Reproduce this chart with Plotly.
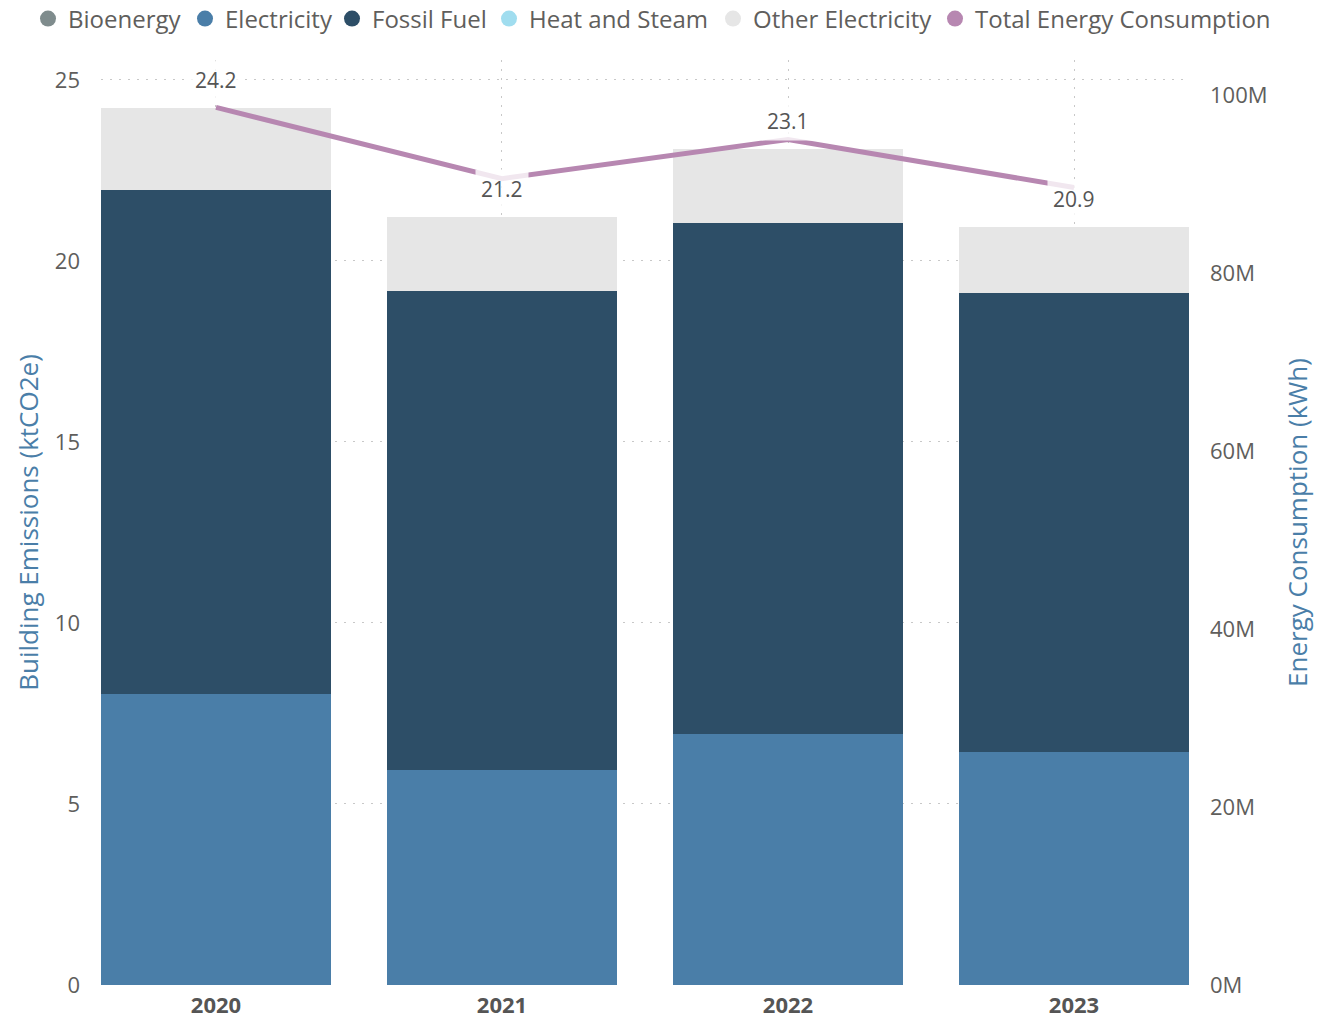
import plotly.graph_objects as go

years = ["2020", "2021", "2022", "2023"]
bioenergy = [0, 0, 0, 0]
electricity = [8.04, 5.94, 6.93, 6.44]
fossil_fuel = [13.92, 13.23, 14.12, 12.68]
heat_steam = [0, 0, 0, 0]
other_electricity = [2.27, 2.05, 2.04, 1.82]
total_energy_m = [98.6, 90.6, 95.0, 89.6]  # millions of kWh
right_ticks = [0, 20, 40, 60, 80, 100]
left_ticks = [0, 5, 10, 15, 20, 25]

series_names = ["Bioenergy", "Electricity", "Fossil Fuel", "Heat and Steam",
                "Other Electricity", "Total Energy Consumption"]
colors = ["#7F8C8D", "#4A7EA8", "#2D4E67", "#A0DDEF", "#E6E6E6", "#B787B1"]

# layout styling
FONT = "Open Sans, sans-serif"
TXT = "#605E5C"
TITLE_C = "#4A7EA8"
GRID = "#C8C8C8"
W, H = 1337, 1020
legend_left_px = [28, 185, 332, 489, 713, 935]

fig = go.Figure()
bar_data = [bioenergy, electricity, fossil_fuel, heat_steam, other_electricity]
for name, vals, col in zip(series_names[:5], bar_data, colors[:5]):
    fig.add_trace(go.Bar(x=years, y=vals, name=name, marker_color=col,
                         marker_line_width=0, showlegend=False))

fig.add_trace(go.Scatter(x=years, y=total_energy_m, name=series_names[5], mode="lines",
                         line=dict(color=colors[5], width=5), yaxis="y2", showlegend=False))

# legend entries with circle symbols, one single-item legend each
legend_layouts = {}
for k, (name, col) in enumerate(zip(series_names, colors)):
    lname = "legend" if k == 0 else f"legend{k + 1}"
    fig.add_trace(go.Scatter(x=[None], y=[None], mode="markers", name=name, legend=lname,
                             marker=dict(symbol="circle", size=17, color=col)))
    legend_layouts[lname] = dict(orientation="h", xref="container", yref="container",
                                 x=legend_left_px[k] / W, y=1 - 19 / H,
                                 xanchor="left", yanchor="middle",
                                 font=dict(size=24, color=TXT, family=FONT),
                                 itemwidth=30, bgcolor="rgba(0,0,0,0)")

totals = [sum(v) for v in zip(*bar_data)]
for i, t in enumerate(totals):
    fig.add_annotation(x=i, y=t, xref="x", yref="y", text=f"{t:.1f}", showarrow=False,
                       yshift=28, font=dict(family=FONT, size=21, color="#555555"),
                       bgcolor="rgba(255,255,255,0.8)", borderpad=5)

fig.update_layout(
    width=W, height=H,
    margin=dict(l=101, r=148, t=60, b=35),
    paper_bgcolor="white", plot_bgcolor="white",
    barmode="stack", bargap=0.196,
    font=dict(family=FONT, color=TXT),
    xaxis=dict(type="category", range=[-0.402, 3.402], showgrid=True, gridcolor=GRID,
               griddash="2px,7px", gridwidth=1, showline=False, zeroline=False,
               tickfont=dict(size=22, color="#555555", family=FONT, weight="bold"),
               ticks="", ticklabelstandoff=5, automargin=False),
    yaxis=dict(range=[0, 25.55], tickvals=left_ticks, showgrid=True,
               gridcolor=GRID, griddash="2px,7px", gridwidth=1, zeroline=False,
               tickfont=dict(size=22, color=TXT), ticklabelstandoff=20, automargin=False,
               title=dict(text="Building Emissions (ktCO2e)", font=dict(size=26, color=TITLE_C),
                          standoff=8)),
    yaxis2=dict(overlaying="y", side="right", range=[0, 103.93],
                tickvals=right_ticks, ticktext=[f"{v}M" for v in right_ticks], showgrid=False,
                zeroline=False, tickfont=dict(size=22, color=TXT), ticklabelstandoff=20,
                automargin=False,
                title=dict(text="Energy Consumption (kWh)", font=dict(size=26, color=TITLE_C),
                           standoff=22)),
    **legend_layouts,
)

fig.write_html("out.html", config={"displayModeBar": False},
               post_script="document.body.style.margin='0';document.body.style.overflow='hidden';")
